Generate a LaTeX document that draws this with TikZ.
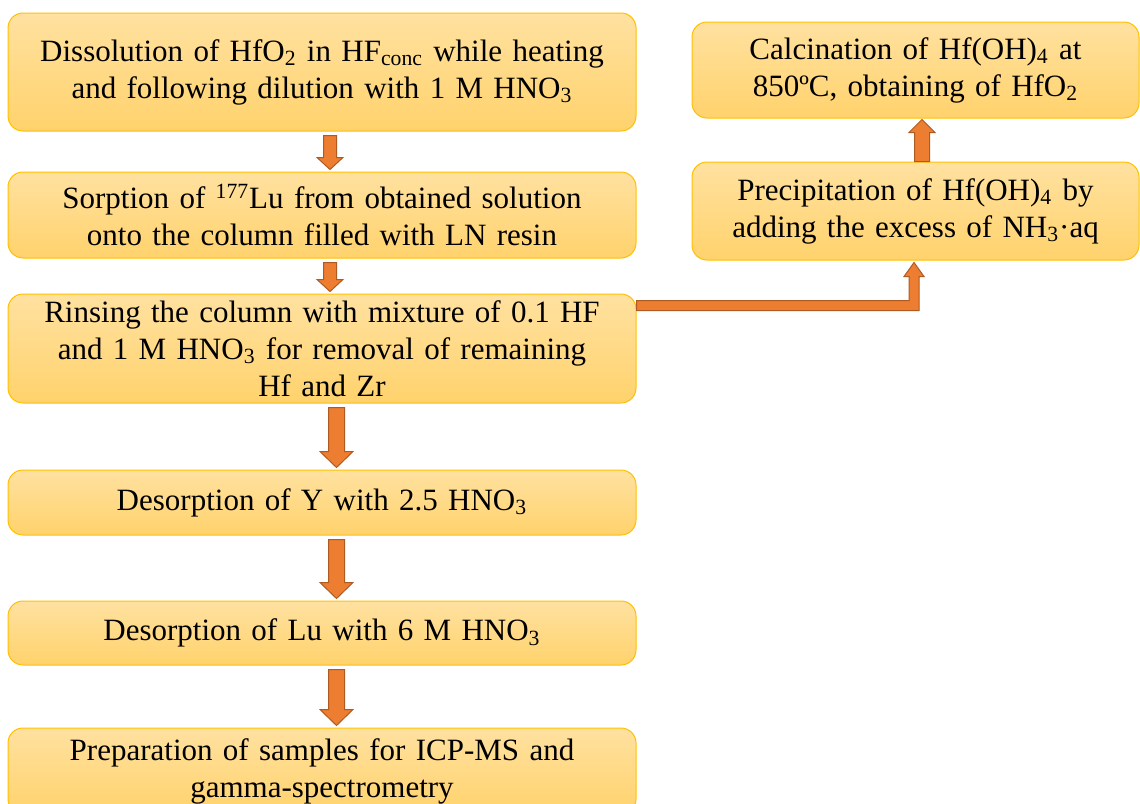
\documentclass[tikz,border=0pt]{standalone}
\usepackage{fontspec}
\setmainfont{Liberation Serif}
\usetikzlibrary{positioning,calc}

\definecolor{boxtop}{RGB}{255,225,160}
\definecolor{boxbottom}{RGB}{255,210,108}
\definecolor{boxline}{RGB}{255,192,0}
\definecolor{arrowfill}{RGB}{237,125,49}
\definecolor{arrowline}{RGB}{174,90,33}

\tikzset{
    stage/.style={draw=boxline, line width=0.5pt, rounded corners=7.5pt, top color=boxtop, bottom color=boxbottom, align=center, inner sep=0pt, font=\fontsize{15.5}{18.5}\selectfont},
    wide/.style={stage, minimum width=314pt, text width=312pt},
    narrow/.style={stage, minimum width=223.5pt, text width=221pt},
    blockarrow/.style={fill=arrowfill, draw=arrowline, line width=0.5pt, line join=miter},
}

\newcommand{\flowdown}[6]{%
    \draw[blockarrow] let \p1=($(#1.south)+(#3,-2)$), \p2=($(#2.north)+(#3,1)$) in
        (\x1-#4pt,\y1) -- (\x1-#4pt,\y2+#6pt) -- (\x1-#5pt,\y2+#6pt) -- (\x1,\y2)
        -- (\x1+#5pt,\y2+#6pt) -- (\x1+#4pt,\y2+#6pt) -- (\x1+#4pt,\y1) -- cycle;}
\newcommand{\flowup}[6]{%
    \draw[blockarrow] let \p1=($(#1.north)+(#3,0)$), \p2=($(#2.south)+(#3,-0.5)$) in
        (\x1-#4pt,\y1) -- (\x1-#4pt,\y2-#6pt) -- (\x1-#5pt,\y2-#6pt) -- (\x1,\y2)
        -- (\x1+#5pt,\y2-#6pt) -- (\x1+#4pt,\y2-#6pt) -- (\x1+#4pt,\y1) -- cycle;}

\begin{document}
\begin{tikzpicture}[x=1pt, y=1pt]
    \useasboundingbox (0,0) rectangle (570,-401.5);
    \clip (0,0) rectangle (570,-401.5);
    \node[wide, minimum height=59pt] (dissolve) at (161,-36) {\raisebox{-2pt}{\parbox{312pt}{\centering Dissolution of HfO\textsubscript{2} in HF\textsubscript{conc} while heating\\and following dilution with 1 M HNO\textsubscript{3}}}};
    \node[wide, minimum height=43pt, below=20pt of dissolve] (sorption) {Sorption of \textsuperscript{177}Lu from obtained solution\\onto the column filled with LN resin};
    \node[wide, minimum height=54.5pt, below=17.5pt of sorption] (rinse) {Rinsing the column with mixture of 0.1 HF\\and 1 M HNO\textsubscript{3} for removal of remaining\\Hf and Zr};
    \node[wide, minimum height=32.5pt, below=33pt of rinse] (desorbY) {Desorption of Y with 2.5 HNO\textsubscript{3}};
    \node[wide, minimum height=32pt, below=32.5pt of desorbY] (desorbLu) {Desorption of Lu with 6 M HNO\textsubscript{3}};
    \node[wide, minimum height=43pt, below=31pt of desorbLu] (prepare) {Preparation of samples for ICP-MS and\\gamma-spectrometry};
    \node[narrow, minimum height=48pt] (calcine) at (457.75,-35) {Calcination of Hf(OH)\textsubscript{4} at\\850ºC, obtaining of HfO\textsubscript{2}};
    \node[narrow, minimum height=49pt, below=21.5pt of calcine] (precip) {Precipitation of Hf(OH)\textsubscript{4} by\\adding the excess of NH\textsubscript{3}·aq};
    \flowdown{dissolve}{sorption}{4}{3.25}{6.5}{6}
    \flowdown{sorption}{rinse}{4}{3.25}{6.5}{6}
    \flowdown{rinse}{desorbY}{7.25}{4}{8.25}{8}
    \flowdown{desorbY}{desorbLu}{7.25}{4}{8.25}{8}
    \flowdown{desorbLu}{prepare}{7.25}{4}{8.25}{8}
    \flowup{precip}{calcine}{3.25}{3.75}{6.5}{6.5}
    \draw[blockarrow] let \p1=($(rinse.east)+(0,21.5)$), \p2=($(precip.south)+(-0.75,-1)$) in
        (\x1,\y1+2.5pt) -- (\x2-2.5pt,\y1+2.5pt) -- (\x2-2.5pt,\y2-7pt) -- (\x2-5pt,\y2-7pt) -- (\x2,\y2)
        -- (\x2+5pt,\y2-7pt) -- (\x2+2.5pt,\y2-7pt) -- (\x2+2.5pt,\y1-2.5pt) -- (\x1,\y1-2.5pt) -- cycle;
\end{tikzpicture}
\end{document}
